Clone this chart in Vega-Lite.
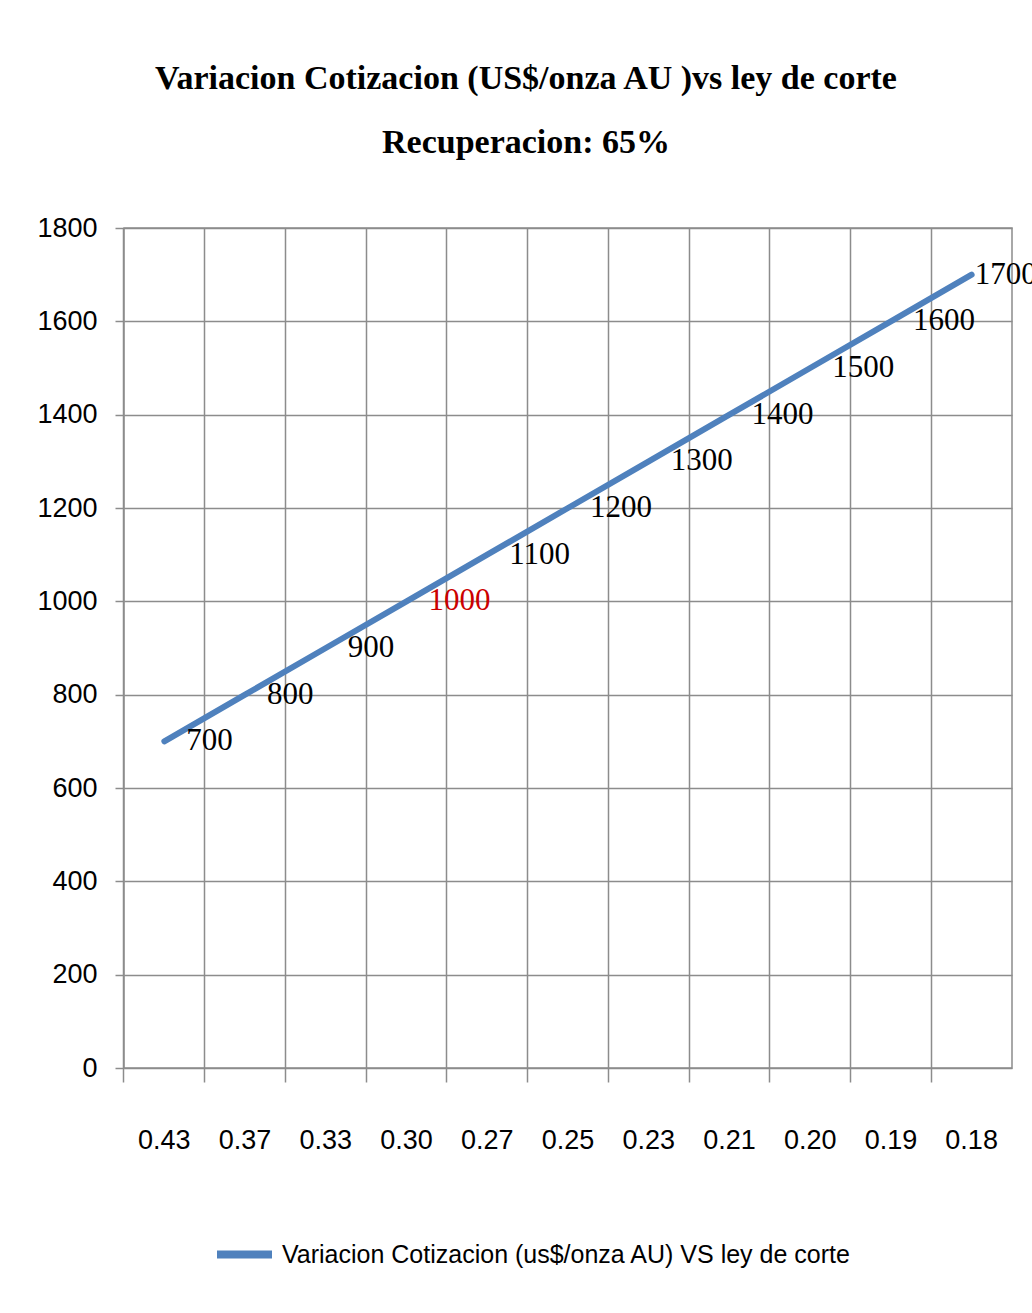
{
  "$schema": "https://vega.github.io/schema/vega-lite/v6.json",
  "width": 888,
  "height": 840,
  "autosize": {"type": "none"},
  "padding": {"left": 124, "top": 228, "right": 20, "bottom": 245},
  "background": "white",
  "config": {
    "view": {"stroke": "#8c8c8c", "strokeWidth": 1.5},
    "axis": {"gridColor": "#8c8c8c", "gridWidth": 1.5, "tickColor": "#8c8c8c", "tickWidth": 1.5, "domainColor": "#8c8c8c", "domainWidth": 1.5, "labelColor": "#000000", "labelFont": "Liberation Sans", "labelFontSize": 27}
  },
  "title": {
    "text": ["Variacion Cotizacion (US$/onza AU )vs ley de corte", "Recuperacion: 65%"],
    "font": "Liberation Serif",
    "fontSize": 34,
    "fontWeight": "bold",
    "color": "#000000",
    "anchor": "middle",
    "frame": "group",
    "dx": -42,
    "offset": 54,
    "lineHeight": 64
  },
  "data": {
    "values": [
      {"ley": "0.43", "cotizacion": 700},
      {"ley": "0.37", "cotizacion": 800},
      {"ley": "0.33", "cotizacion": 900},
      {"ley": "0.30", "cotizacion": 1000},
      {"ley": "0.27", "cotizacion": 1100},
      {"ley": "0.25", "cotizacion": 1200},
      {"ley": "0.23", "cotizacion": 1300},
      {"ley": "0.21", "cotizacion": 1400},
      {"ley": "0.20", "cotizacion": 1500},
      {"ley": "0.19", "cotizacion": 1600},
      {"ley": "0.18", "cotizacion": 1700}
    ]
  },
  "encoding": {
    "x": {
      "field": "ley",
      "type": "ordinal",
      "sort": null,
      "scale": {"type": "band", "paddingInner": 0, "paddingOuter": 0},
      "axis": {"title": null, "labelAngle": 0, "bandPosition": 0, "tickSize": 14, "labelPadding": 45, "grid": true, "domain": false}
    },
    "y": {
      "field": "cotizacion",
      "type": "quantitative",
      "scale": {"domain": [0, 1800], "nice": false},
      "axis": {"title": null, "format": "d", "values": [0, 200, 400, 600, 800, 1000, 1200, 1400, 1600, 1800], "tickSize": 9, "labelPadding": 18, "grid": true, "domain": false}
    }
  },
  "layer": [
    {
      "mark": {"type": "line", "strokeWidth": 6, "strokeCap": "round", "strokeJoin": "round"},
      "encoding": {
        "color": {
          "datum": "Variacion Cotizacion (us$/onza AU) VS ley de corte",
          "type": "nominal",
          "scale": {"range": ["#4F81BD"]},
          "legend": {
            "title": null,
            "orient": "none",
            "legendX": 89,
            "legendY": 995,
            "symbolType": "stroke",
            "symbolSize": 3025,
            "symbolStrokeWidth": 8,
            "labelFont": "Liberation Sans",
            "labelFontSize": 25,
            "labelColor": "#000000",
            "labelLimit": 900,
            "labelOffset": 6
          }
        }
      }
    },
    {
      "transform": [{"filter": "datum.cotizacion < 1700"}],
      "mark": {"type": "text", "align": "left", "baseline": "middle", "dx": 22, "font": "Liberation Serif", "fontSize": 31},
      "encoding": {
        "text": {"field": "cotizacion", "type": "quantitative", "format": "d"},
        "color": {"condition": {"test": "datum.cotizacion == 1000", "value": "#CC0000"}, "value": "#000000"}
      }
    },
    {
      "transform": [{"filter": "datum.cotizacion == 1700"}],
      "mark": {"type": "text", "align": "left", "baseline": "middle", "dx": 3, "font": "Liberation Serif", "fontSize": 31, "color": "#000000"},
      "encoding": {
        "text": {"field": "cotizacion", "type": "quantitative", "format": "d"}
      }
    }
  ]
}
